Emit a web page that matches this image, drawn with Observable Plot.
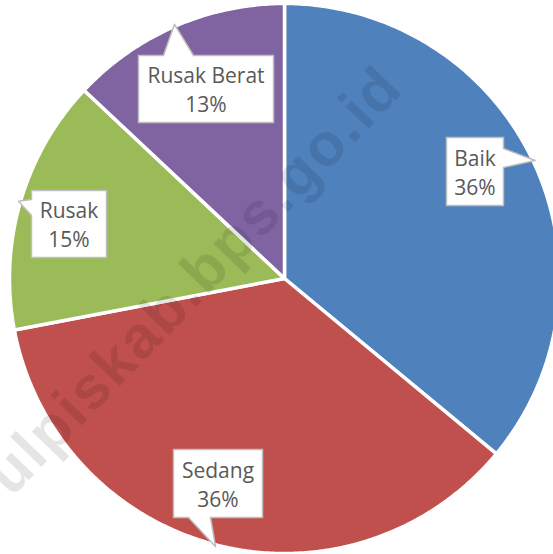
<!DOCTYPE html>
<html><head><meta charset="utf-8">
<script src="https://cdn.jsdelivr.net/npm/d3@7"></script>
<script src="https://cdn.jsdelivr.net/npm/@observablehq/plot@0.6"></script>
<style>html,body{margin:0;padding:0;background:#fff;overflow:hidden;}</style>
</head><body><div id="chart"></div>
<script>
// ---- data ----
const categories = ["Baik", "Sedang", "Rusak", "Rusak Berat"];
const values = [36, 36, 15, 13];
const percentLabels = ["36%", "36%", "15%", "13%"];
const colors = ["#4F81BD", "#C0504D", "#9BBB59", "#8064A2"];
const watermark = "ulpiskab.bps.go.id";

// ---- layout ----
const W = 553, H = 554;
const cx = 284, cy = 278, r = 275;
const boxLayout = {
  "Baik":        {bx: 474.5, by: 171,   w: 57,  h: 68, side: "right",  b0: -23,   b1: -4},
  "Sedang":      {bx: 217.5, by: 483,   w: 89,  h: 68, side: "bottom", b0: -29.5, b1: -7.5},
  "Rusak":       {bx: 68.5,  by: 223.5, w: 75,  h: 67, side: "left",   b0: -24.5, b1: -8.5},
  "Rusak Berat": {bx: 205.5, by: 88.5,  w: 135, h: 67, side: "top",    b0: -42.5, b1: -12.5}
};

const arcs = d3.pie().sort(null).value(d => d)(values);
const colorOf = Object.fromEntries(categories.map((c, i) => [c, colors[i]]));

// slice polygons
const slices = [];
arcs.forEach((a, i) => {
  const cat = categories[i];
  slices.push({cat, x: cx, y: cy});
  const n = Math.max(2, Math.ceil((a.endAngle - a.startAngle) / 0.01));
  for (let k = 0; k <= n; k++) {
    const t = a.startAngle + (a.endAngle - a.startAngle) * k / n;
    slices.push({cat, x: cx + r * Math.sin(t), y: cy - r * Math.cos(t)});
  }
});

// callout boxes
const boxes = [];
const texts = [];
arcs.forEach((a, i) => {
  const cat = categories[i];
  const L = boxLayout[cat];
  const mid = (a.startAngle + a.endAngle) / 2;
  const tip = {x: cx + (r + 2) * Math.sin(mid), y: cy - (r + 2) * Math.cos(mid)};
  const x0 = L.bx - L.w / 2, x1 = L.bx + L.w / 2, y0 = L.by - L.h / 2, y1 = L.by + L.h / 2;
  let pts;
  if (L.side === "top") pts = [[x0,y0],[L.bx+L.b0,y0],[tip.x,tip.y],[L.bx+L.b1,y0],[x1,y0],[x1,y1],[x0,y1]];
  else if (L.side === "right") pts = [[x0,y0],[x1,y0],[x1,L.by+L.b0],[tip.x,tip.y],[x1,L.by+L.b1],[x1,y1],[x0,y1]];
  else if (L.side === "bottom") pts = [[x0,y0],[x1,y0],[x1,y1],[L.bx+L.b1,y1],[tip.x,tip.y],[L.bx+L.b0,y1],[x0,y1]];
  else pts = [[x0,y0],[x1,y0],[x1,y1],[x0,y1],[x0,L.by+L.b1],[tip.x,tip.y],[x0,L.by+L.b0]];
  pts.forEach(([x, y]) => boxes.push({cat, x, y}));
  texts.push({x: L.bx, y: L.by + 2 - 14.5, t: cat});
  texts.push({x: L.bx, y: L.by + 2 + 14.5, t: percentLabels[i]});
});

const plot = Plot.plot({
  width: W, height: H, margin: 0,
  x: {domain: [0, W], range: [0, W], axis: null},
  y: {domain: [0, H], range: [0, H], axis: null},
  color: {type: "identity"},
  style: {background: "white"},
  marks: [
    Plot.line(slices, {x: "x", y: "y", z: "cat", fill: d => colorOf[d.cat], stroke: "white", strokeWidth: 3.5, strokeLinejoin: "miter", curve: "linear-closed"}),
    Plot.text([watermark], {frameAnchor: "middle", dx: -83, dy: 4, text: d => d, rotate: -46, fontSize: 60, fontWeight: "bold", fontFamily: "Liberation Sans", fill: "black", fillOpacity: 0.1}),
    Plot.line(boxes, {x: "x", y: "y", z: "cat", fill: "white", stroke: "#bfbfbf", strokeWidth: 1.5, curve: "linear-closed"}),
    Plot.text(texts, {x: "x", y: "y", text: "t", fill: "#595959", fontSize: 21, fontFamily: "Open Sans", textAnchor: "middle", lineAnchor: "middle"})
  ]
});
plot.querySelectorAll("text").forEach(el => {
  if (el.textContent === watermark) {
    el.setAttribute("textLength", "565");
    el.setAttribute("lengthAdjust", "spacing");
  }
});
document.getElementById("chart").appendChild(plot);
</script>
</body></html>
